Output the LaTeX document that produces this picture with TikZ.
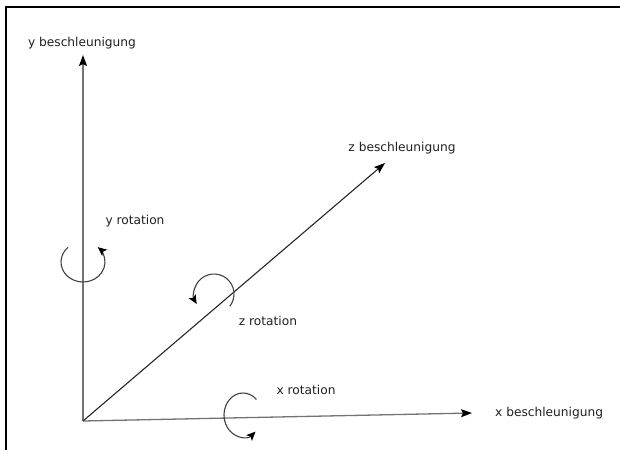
\documentclass[tikz,border=0pt]{standalone}
\usepackage{fontspec}
\setmainfont{DejaVu Sans}
\usetikzlibrary{arrows.meta}

\begin{document}
\begin{tikzpicture}[
    x=1pt, y=1pt,
    font=\fontsize{12.2}{14}\selectfont,
    frame/.style={draw=black, line width=2pt},
    axis/.style={draw=black!55, line width=1.3pt, -{Stealth[length=11pt, width=8pt, inset=2pt, black]}},
    zaxis/.style={draw=black!85, line width=1.1pt, -{Stealth[length=11pt, width=8pt, inset=2pt, black]}},
    turn/.style={draw=black!75, line width=1.1pt, -{Stealth[length=9pt, width=8pt, inset=2pt, black]}},
    label/.style={text=black!88, inner sep=0pt}
]
\useasboundingbox (0,0) rectangle (620,450);

% cut-off frame of the screenshot
\draw[frame] (6,0) -- (6,443) -- (620,443);

% origin and axis ends
\coordinate (O) at (83,29);
\coordinate (xend) at (472,37);
\coordinate (yend) at (83,395);
\coordinate (zend) at (385,287);

\draw[axis] (O) -- (yend);
\draw[axis] (O) -- (xend);
\draw[zaxis] (O) -- (zend);

\node[label] (ylab) at (82,407) {y beschleunigung};
\node[label] (zlab) at (402,302) {z beschleunigung};
\node[label, anchor=west] (xlab) at (495,37) {x beschleunigung};

% rotations around the axes
\coordinate (yrot) at (83,188);
\coordinate (zrot) at (214,156);
\coordinate (xrot) at (243,35);

\draw[turn] ([shift={(133:22 and 20)}]yrot) arc[start angle=133, end angle=408, x radius=22, y radius=20];
\draw[turn] ([shift={(-38:20)}]zrot) arc[start angle=-38, end angle=210, radius=20];
\draw[turn] ([shift={(45:19 and 22)}]xrot) arc[start angle=45, end angle=311, x radius=19, y radius=22];

\node[label] (yrotlab) at (135,229) {y rotation};
\node[label] (zrotlab) at (268,129) {z rotation};
\node[label] (xrotlab) at (306,60) {x rotation};
\end{tikzpicture}
\end{document}
